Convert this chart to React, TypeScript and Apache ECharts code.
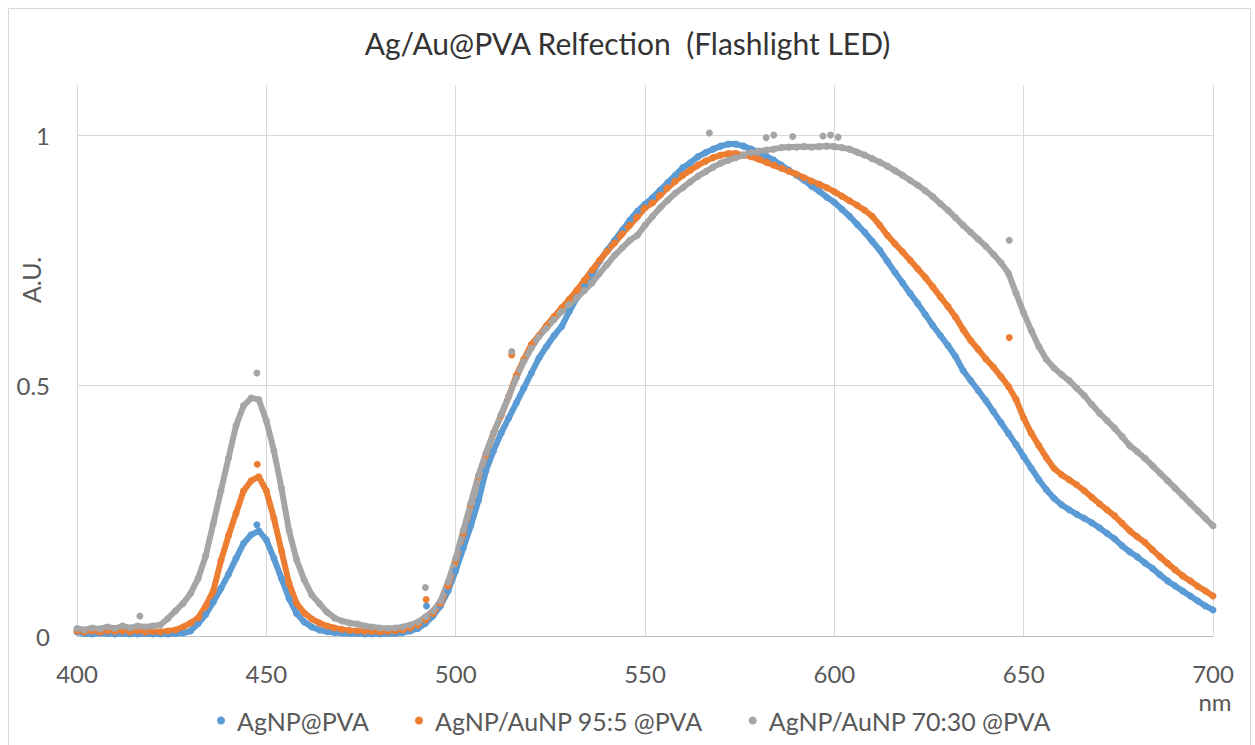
import React, { useEffect, useRef } from "react";
import * as echarts from "echarts";

const wavelengths = [
  400, 402, 404, 406, 408, 410, 412, 414, 416, 418,
  420, 422, 424, 426, 428, 430, 432, 434, 436, 438,
  440, 442, 444, 446, 448, 450, 452, 454, 456, 458,
  460, 462, 464, 466, 468, 470, 472, 474, 476, 478,
  480, 482, 484, 486, 488, 490, 492, 494, 496, 498,
  500, 502, 504, 506, 508, 510, 512, 514, 516, 518,
  520, 522, 524, 526, 528, 530, 532, 534, 536, 538,
  540, 542, 544, 546, 548, 550, 552, 554, 556, 558,
  560, 562, 564, 566, 568, 570, 572, 574, 576, 578,
  580, 582, 584, 586, 588, 590, 592, 594, 596, 598,
  600, 602, 604, 606, 608, 610, 612, 614, 616, 618,
  620, 622, 624, 626, 628, 630, 632, 634, 636, 638,
  640, 642, 644, 646, 648, 650, 652, 654, 656, 658,
  660, 662, 664, 666, 668, 670, 672, 674, 676, 678,
  680, 682, 684, 686, 688, 690, 692, 694, 696, 698,
  700,
];

const agNP = [
  0.008, 0.005, 0.004, 0.006, 0.005, 0.004, 0.005, 0.004, 0.004, 0.005,
  0.004, 0.004, 0.004, 0.005, 0.006, 0.010, 0.025, 0.043, 0.068, 0.095,
  0.123, 0.155, 0.185, 0.202, 0.210, 0.192, 0.155, 0.115, 0.075, 0.045,
  0.028, 0.018, 0.012, 0.009, 0.007, 0.006, 0.005, 0.005, 0.004, 0.004,
  0.004, 0.005, 0.005, 0.007, 0.010, 0.015, 0.025, 0.040, 0.060, 0.090,
  0.130, 0.175, 0.220, 0.270, 0.330, 0.370, 0.405, 0.435, 0.465, 0.495,
  0.525, 0.555, 0.578, 0.600, 0.618, 0.648, 0.675, 0.700, 0.724, 0.748,
  0.770, 0.790, 0.810, 0.830, 0.848, 0.862, 0.875, 0.890, 0.905, 0.920,
  0.935, 0.945, 0.957, 0.965, 0.972, 0.978, 0.982, 0.982, 0.978, 0.972,
  0.966, 0.958, 0.950, 0.940, 0.930, 0.920, 0.910, 0.898, 0.888, 0.876,
  0.866, 0.852, 0.838, 0.822, 0.806, 0.788, 0.770, 0.748, 0.726, 0.705,
  0.684, 0.664, 0.642, 0.620, 0.600, 0.580, 0.558, 0.530, 0.510, 0.490,
  0.470, 0.448, 0.426, 0.404, 0.382, 0.358, 0.335, 0.312, 0.292, 0.275,
  0.262, 0.252, 0.243, 0.235, 0.226, 0.216, 0.205, 0.194, 0.180, 0.168,
  0.158, 0.146, 0.135, 0.122, 0.110, 0.100, 0.090, 0.080, 0.070, 0.060,
  0.052,
];

const agAu955 = [
  0.010, 0.008, 0.010, 0.008, 0.010, 0.009, 0.010, 0.008, 0.010, 0.008,
  0.009, 0.008, 0.010, 0.012, 0.018, 0.026, 0.036, 0.060, 0.090, 0.150,
  0.200, 0.245, 0.290, 0.310, 0.318, 0.290, 0.235, 0.170, 0.105, 0.065,
  0.046, 0.034, 0.026, 0.020, 0.016, 0.013, 0.011, 0.010, 0.009, 0.009,
  0.008, 0.009, 0.010, 0.012, 0.016, 0.022, 0.032, 0.045, 0.065, 0.100,
  0.150, 0.205, 0.262, 0.318, 0.362, 0.405, 0.440, 0.478, 0.520, 0.552,
  0.582, 0.600, 0.620, 0.638, 0.655, 0.672, 0.690, 0.710, 0.730, 0.750,
  0.768, 0.785, 0.803, 0.820, 0.837, 0.855, 0.865, 0.880, 0.895, 0.908,
  0.920, 0.930, 0.940, 0.948, 0.955, 0.960, 0.963, 0.963, 0.960, 0.957,
  0.952, 0.946, 0.940, 0.934, 0.928, 0.922, 0.915, 0.908, 0.902, 0.895,
  0.887, 0.878, 0.869, 0.860, 0.850, 0.838, 0.820, 0.800, 0.783, 0.767,
  0.750, 0.733, 0.716, 0.697, 0.677, 0.658, 0.637, 0.612, 0.590, 0.572,
  0.553, 0.537, 0.518, 0.498, 0.472, 0.435, 0.405, 0.380, 0.356, 0.335,
  0.322, 0.312, 0.302, 0.290, 0.277, 0.264, 0.252, 0.240, 0.225, 0.210,
  0.198, 0.187, 0.172, 0.158, 0.145, 0.132, 0.120, 0.110, 0.099, 0.090,
  0.080,
];

const agAu7030 = [
  0.015, 0.012, 0.016, 0.014, 0.018, 0.015, 0.020, 0.016, 0.020, 0.018,
  0.020, 0.022, 0.035, 0.050, 0.065, 0.085, 0.115, 0.160, 0.225, 0.290,
  0.355, 0.420, 0.460, 0.475, 0.472, 0.430, 0.370, 0.295, 0.210, 0.152,
  0.112, 0.082, 0.065, 0.048, 0.036, 0.030, 0.026, 0.024, 0.020, 0.018,
  0.016, 0.015, 0.016, 0.018, 0.022, 0.028, 0.038, 0.050, 0.070, 0.108,
  0.155, 0.210, 0.265, 0.320, 0.365, 0.405, 0.442, 0.478, 0.515, 0.548,
  0.575, 0.598, 0.615, 0.632, 0.648, 0.662, 0.675, 0.690, 0.705, 0.724,
  0.742, 0.760, 0.775, 0.790, 0.800, 0.820, 0.838, 0.855, 0.870, 0.884,
  0.895, 0.907, 0.918, 0.927, 0.936, 0.944, 0.950, 0.955, 0.960, 0.965,
  0.968, 0.970, 0.972, 0.975, 0.976, 0.976, 0.977, 0.976, 0.977, 0.978,
  0.977, 0.975, 0.972, 0.966, 0.960, 0.953, 0.946, 0.938, 0.929, 0.920,
  0.910, 0.900, 0.889, 0.877, 0.863, 0.850, 0.835, 0.820, 0.806, 0.792,
  0.778, 0.762, 0.745, 0.724, 0.684, 0.645, 0.610, 0.578, 0.552, 0.535,
  0.522, 0.510, 0.495, 0.480, 0.462, 0.445, 0.430, 0.415, 0.398, 0.380,
  0.368, 0.355, 0.340, 0.325, 0.310, 0.295, 0.280, 0.265, 0.250, 0.235,
  0.220,
];

// stray points
const agNPStrayX = [447.5, 492.3];
const agNPStrayY = [0.222, 0.06];
const agAu955StrayX = [447.6, 492.2, 514.8, 646.2];
const agAu955StrayY = [0.343, 0.073, 0.561, 0.596];
const agAu7030StrayX = [416.6, 447.5, 492, 514.8, 567, 582, 584, 589, 597, 599, 601, 646.2];
const agAu7030StrayY = [0.04, 0.525, 0.097, 0.568, 1.004, 0.995, 1.0, 0.997, 0.998, 1.0, 0.996, 0.79];

const xTicks = { min: 400, max: 700, interval: 50 };
const yTicks = { min: 0, max: 1.1, interval: 0.5 };

const names = ["AgNP@PVA", "AgNP/AuNP 95:5 @PVA", "AgNP/AuNP 70:30 @PVA"];
const colors = ["#5b9bd5", "#ed7d31", "#a5a5a5"];

function pairs(xs: number[], ys: number[]) {
  return xs.map((x, i) => [x, ys[i]]);
}

export default function App() {
  const ref = useRef<HTMLDivElement>(null);
  useEffect(() => {
    if (!ref.current) return;
    const chart = echarts.init(ref.current, null, { renderer: "svg" });
    const mains = [agNP, agAu955, agAu7030];
    const strays = [
      pairs(agNPStrayX, agNPStrayY),
      pairs(agAu955StrayX, agAu955StrayY),
      pairs(agAu7030StrayX, agAu7030StrayY),
    ];
    const series: any[] = [];
    mains.forEach((ys, i) => {
      series.push({
        name: names[i],
        type: "line",
        data: pairs(wavelengths, ys),
        symbol: "circle",
        symbolSize: 7,
        showAllSymbol: true,
        showSymbol: true,
        itemStyle: { color: colors[i] },
        lineStyle: { color: colors[i], width: 6 },
        silent: true,
      });
      series.push({
        name: names[i],
        type: "scatter",
        data: strays[i],
        symbol: "circle",
        symbolSize: 7,
        itemStyle: { color: colors[i], opacity: 1 },
        silent: true,
      });
    });
    chart.setOption({
      animation: false,
      backgroundColor: "#ffffff",
      textStyle: { fontFamily: "Lato" },
      title: {
        text: "Ag/Au@PVA Relfection  (Flashlight LED)",
        left: "center",
        top: 23,
        textStyle: { fontFamily: "Lato", fontSize: 30, fontWeight: "normal", color: "#333333" },
      },
      grid: { left: 77, right: 42, top: 85, bottom: 109 },
      xAxis: {
        type: "value",
        min: xTicks.min,
        max: xTicks.max,
        interval: xTicks.interval,
        axisLine: { lineStyle: { color: "#bfbfbf", width: 1 } },
        axisTick: { show: false },
        axisLabel: { color: "#595959", fontSize: 24, margin: 25, fontFamily: "Lato" },
        splitLine: { show: true, lineStyle: { color: "#d9d9d9", width: 1 } },
      },
      yAxis: {
        type: "value",
        min: yTicks.min,
        max: yTicks.max,
        interval: yTicks.interval,
        axisLine: { show: false },
        axisTick: { show: false },
        axisLabel: { color: "#595959", fontSize: 24, margin: 27, showMaxLabel: false, fontFamily: "Lato" },
        splitLine: { show: true, showMaxLine: false, lineStyle: { color: "#d9d9d9", width: 1 } },
      },
      legend: {
        data: names,
        left: 212,
        top: 703,
        icon: "circle",
        itemWidth: 22,
        itemHeight: 8,
        itemGap: 46,
        textStyle: { color: "#595959", fontSize: 25, fontFamily: "Lato" },
      },
      graphic: [
        {
          type: "rect",
          shape: { x: 8.5, y: 8.5, width: 1242, height: 760 },
          style: { fill: "none", stroke: "#d9d9d9", lineWidth: 1 },
          silent: true,
          z: -1,
        },
        {
          type: "text",
          x: 31,
          y: 280,
          rotation: Math.PI / 2,
          style: {
            text: "A.U.",
            fontSize: 25,
            fontFamily: "Lato",
            fill: "#595959",
            align: "center",
            verticalAlign: "middle",
          },
        },
        {
          type: "text",
          x: 1215,
          y: 701,
          style: {
            text: "nm",
            fontSize: 24,
            fontFamily: "Lato",
            fill: "#595959",
            align: "center",
            verticalAlign: "middle",
          },
        },
      ],
      series,
    });
    return () => chart.dispose();
  }, []);
  return (
    <div
      ref={ref}
      style={{ position: "fixed", left: 0, top: 0, width: 1255, height: 745, background: "#fff" }}
    />
  );
}
